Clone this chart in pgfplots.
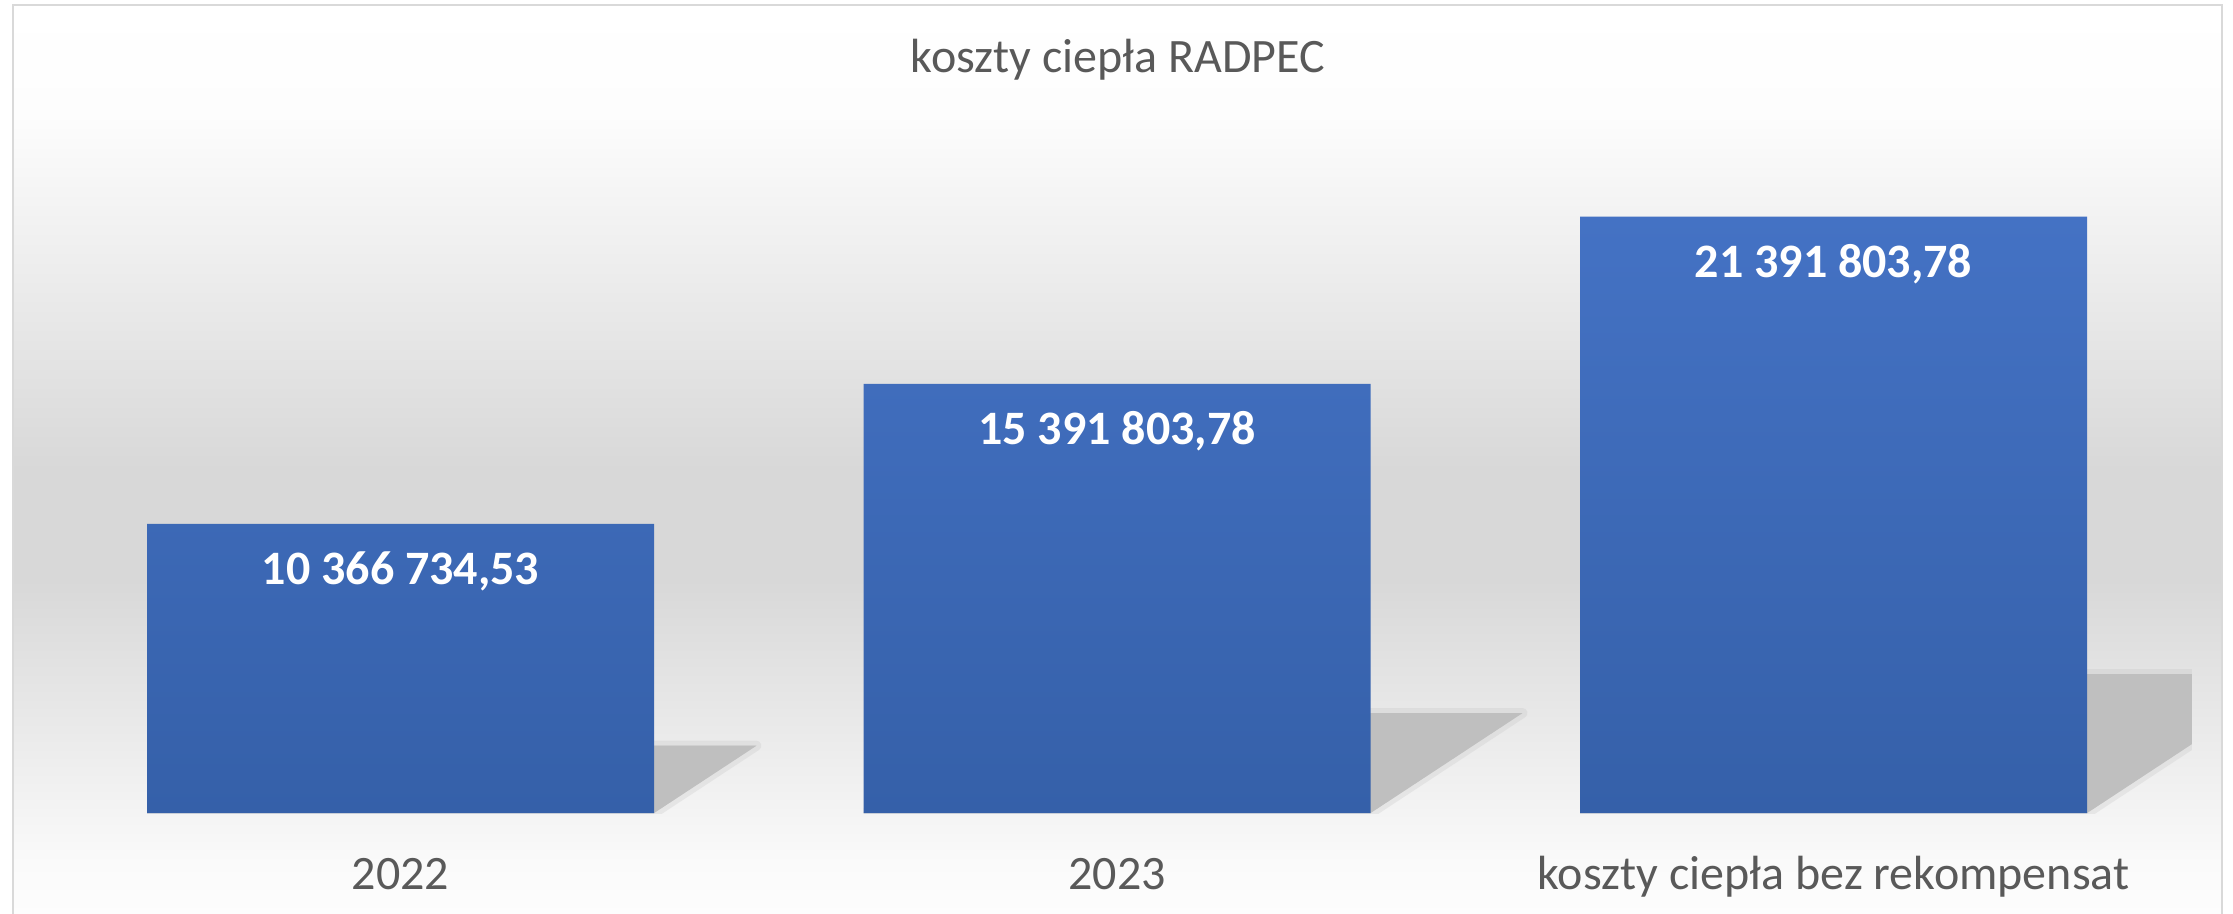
\documentclass[border=0pt]{standalone}
\usepackage{pgfplots}
\pgfplotsset{compat=1.18}
\usepackage{fontspec}
\setmainfont{Carlito}

\definecolor{txt}{HTML}{595959}
\definecolor{barTop}{HTML}{4472C4}
\definecolor{barBot}{HTML}{3560A9}
\definecolor{shadowc}{HTML}{BFBFBF}
\definecolor{framec}{HTML}{D9D9D9}
\definecolor{bgA}{HTML}{FDFDFD}
\definecolor{bgB}{HTML}{FAFAFA}
\definecolor{bgC}{HTML}{D8D8D8}

% chart area background: white -> grey -> white
\pgfdeclareverticalshading{bgfill}{100bp}{color(0bp)=(bgA); color(25bp)=(bgA);
  color(28bp)=(bgB); color(43.5bp)=(bgC); color(49.5bp)=(bgC);
  color(69bp)=(bgA); color(75bp)=(white); color(100bp)=(white)}

\begin{document}
\begin{tikzpicture}
\useasboundingbox (0,0) rectangle (558.25pt,228.25pt);
\shade[shading=bgfill] (3.25pt,-1pt) rectangle (555.4pt,227pt);
\draw[framec, line width=0.5pt] (3.25pt,-1pt) -- (3.25pt,227pt) -- (555.4pt,227pt) -- (555.4pt,-1pt);

\begin{axis}[
    at={(10.5625pt,25pt)}, anchor=south west,
    scale only axis, width=537.375pt, height=174.25pt,
    xmin=-0.5, xmax=2.5, ymin=0, ymax=25000000,
    xtick={0,1,2},
    xticklabels={2022,2023,koszty ciepła bez rekompensat},
    ytick=\empty,
    axis line style={draw=none},
    major tick length=0pt,
    xticklabel style={font=\fontsize{12}{14}\selectfont, text=txt, anchor=base, yshift=-19pt},
]

% perspective shadows behind the bars (soft edge + core)
\addplot[draw=shadowc, draw opacity=0.25, line width=2.5pt, line join=round, fill=shadowc, fill opacity=0.5]
    coordinates {(-0.3538,0) (0.3538,0) (0.4967,2415000) (-0.2109,2415000)};
\addplot[fill=shadowc, draw=none]
    coordinates {(-0.3538,0) (0.3538,0) (0.4967,2415000) (-0.2109,2415000)};
\addplot[draw=shadowc, draw opacity=0.25, line width=2.5pt, line join=round, fill=shadowc, fill opacity=0.5]
    coordinates {(0.6462,0) (1.3538,0) (1.5659,3586000) (0.8583,3586000)};
\addplot[fill=shadowc, draw=none]
    coordinates {(0.6462,0) (1.3538,0) (1.5659,3586000) (0.8583,3586000)};
\addplot[draw=shadowc, draw opacity=0.25, line width=2.5pt, line join=round, fill=shadowc, fill opacity=0.5]
    coordinates {(1.6462,0) (2.3538,0) (2.6486,4984000) (1.9410,4984000)};
\addplot[fill=shadowc, draw=none]
    coordinates {(1.6462,0) (2.3538,0) (2.6486,4984000) (1.9410,4984000)};

\addplot[ybar, bar width=126.75pt, bar shift=0pt, draw=none,
    top color=barTop, bottom color=barBot,
    point meta=explicit symbolic, nodes near coords,
    every node near coord/.append style={font=\bfseries\fontsize{12}{14}\selectfont,
        text=white, anchor=base, yshift=-15.25pt}]
    coordinates {
        (0,10366734.53) [10 366 734,53]
        (1,15391803.78) [15 391 803,78]
        (2,21391803.78) [21 391 803,78]
    };
\end{axis}

\node[anchor=base, text=txt, font=\fontsize{12}{14}\selectfont] at (279.5pt,210.25pt) {koszty ciepła RADPEC};
\end{tikzpicture}
\end{document}
